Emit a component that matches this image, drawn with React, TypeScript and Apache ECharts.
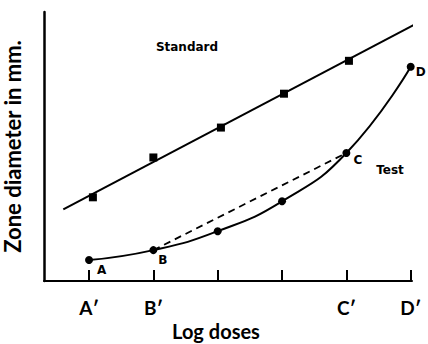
import React, { useEffect, useRef } from "react";
import * as echarts from "echarts";

const doseTicks = [0, 1, 2, 3, 4, 5];
const doseLabels = ["A′", "B′", "", "", "C′", "D′"];

const standardX = [0.06, 1.0, 2.05, 3.03, 4.04, 5.04];
const standardY = [8.4, 12.4, 15.4, 18.8, 22.1, 25.7];
const standardFitX = [-0.4, 5.05];
const standardFitY = [7.2, 25.7];

const testX = [0, 1, 2, 3, 4, 5];
const testY = [2.1, 3.1, 5.0, 8.0, 12.85, 21.5];
const testNames = ["A", "B", "", "", "C", "D"];
const chordX = [1, 4];
const chordY = [3.1, 12.85];

const FONT = "Lato";
const SMALL = "DejaVu Sans";

export default function App() {
  const ref = useRef<HTMLDivElement>(null);
  useEffect(() => {
    if (!ref.current) return;
    const chart = echarts.init(ref.current, null, { renderer: "svg" });
    const labelOffsets: Record<string, number[]> = {
      A: [-1, 10],
      B: [-4, 10],
      C: [-2, 7],
      D: [-4, 5],
    };
    chart.setOption({
      animation: false,
      backgroundColor: "#fff",
      grid: {
        left: 44,
        top: 12,
        right: 16,
        bottom: 63,
        containLabel: false,
        outerBoundsMode: "none",
      },
      xAxis: {
        type: "value",
        min: -0.7,
        max: 5.02,
        splitLine: { show: false },
        axisLine: { onZero: false, lineStyle: { color: "#000", width: 2 } },
        axisTick: {
          show: true,
          inside: true,
          length: 11,
          customValues: doseTicks,
          lineStyle: { color: "#000", width: 2 },
        },
        axisLabel: {
          customValues: doseTicks,
          formatter: (v: number) => doseLabels[Math.round(v)] ?? "",
          margin: 17,
          color: "#000",
          fontFamily: FONT,
          fontWeight: "bold",
          fontSize: 19,
        },
      },
      yAxis: {
        type: "value",
        min: 0,
        max: 27,
        splitLine: { show: false },
        axisLine: { onZero: false, lineStyle: { color: "#000", width: 2.5 } },
        axisTick: { show: false },
        axisLabel: { show: false },
        name: "Zone diameter in mm.",
        nameLocation: "middle",
        nameGap: 21,
        nameTextStyle: {
          color: "#000",
          fontFamily: FONT,
          fontSize: 22,
          fontWeight: "bold",
        },
      },
      graphic: [
        {
          type: "text",
          x: 216,
          y: 331,
          style: {
            text: "Log doses",
            fill: "#000",
            font: `bold 20px ${FONT}`,
            textAlign: "center",
            textVerticalAlign: "middle",
          },
        },
        {
          type: "text",
          x: 187,
          y: 47,
          style: {
            text: "Standard",
            fill: "#000",
            font: `bold 12px "${SMALL}"`,
            textAlign: "center",
            textVerticalAlign: "middle",
          },
        },
        {
          type: "text",
          x: 390,
          y: 170,
          style: {
            text: "Test",
            fill: "#000",
            font: `bold 12px "${SMALL}"`,
            textAlign: "center",
            textVerticalAlign: "middle",
          },
        },
      ],
      series: [
        {
          type: "line",
          data: standardFitX.map((x, i) => [x, standardFitY[i]]),
          showSymbol: false,
          lineStyle: { color: "#000", width: 2 },
          z: 2,
        },
        {
          type: "scatter",
          data: standardX.map((x, i) => [x, standardY[i]]),
          symbol: "rect",
          symbolSize: 8,
          itemStyle: { color: "#000", opacity: 1 },
          z: 3,
        },
        {
          type: "line",
          data: chordX.map((x, i) => [x, chordY[i]]),
          showSymbol: false,
          lineStyle: { color: "#000", width: 1.8, type: [7, 5] },
          z: 2,
        },
        {
          type: "line",
          smooth: 0.5,
          data: testX.map((x, i) => {
            const n = testNames[i];
            return {
              value: [x, testY[i]],
              label: n
                ? {
                    show: true,
                    formatter: n,
                    position: "right",
                    offset: labelOffsets[n],
                    color: "#000",
                    fontFamily: SMALL,
                    fontWeight: "bold",
                    fontSize: 12,
                  }
                : { show: false },
            };
          }),
          symbol: "circle",
          symbolSize: 8,
          itemStyle: { color: "#000", opacity: 1 },
          lineStyle: { color: "#000", width: 2 },
          z: 3,
        },
      ],
    });
    return () => chart.dispose();
  }, []);
  return (
    <div
      ref={ref}
      style={{ position: "fixed", left: 0, top: 0, width: 428, height: 344 }}
    />
  );
}
